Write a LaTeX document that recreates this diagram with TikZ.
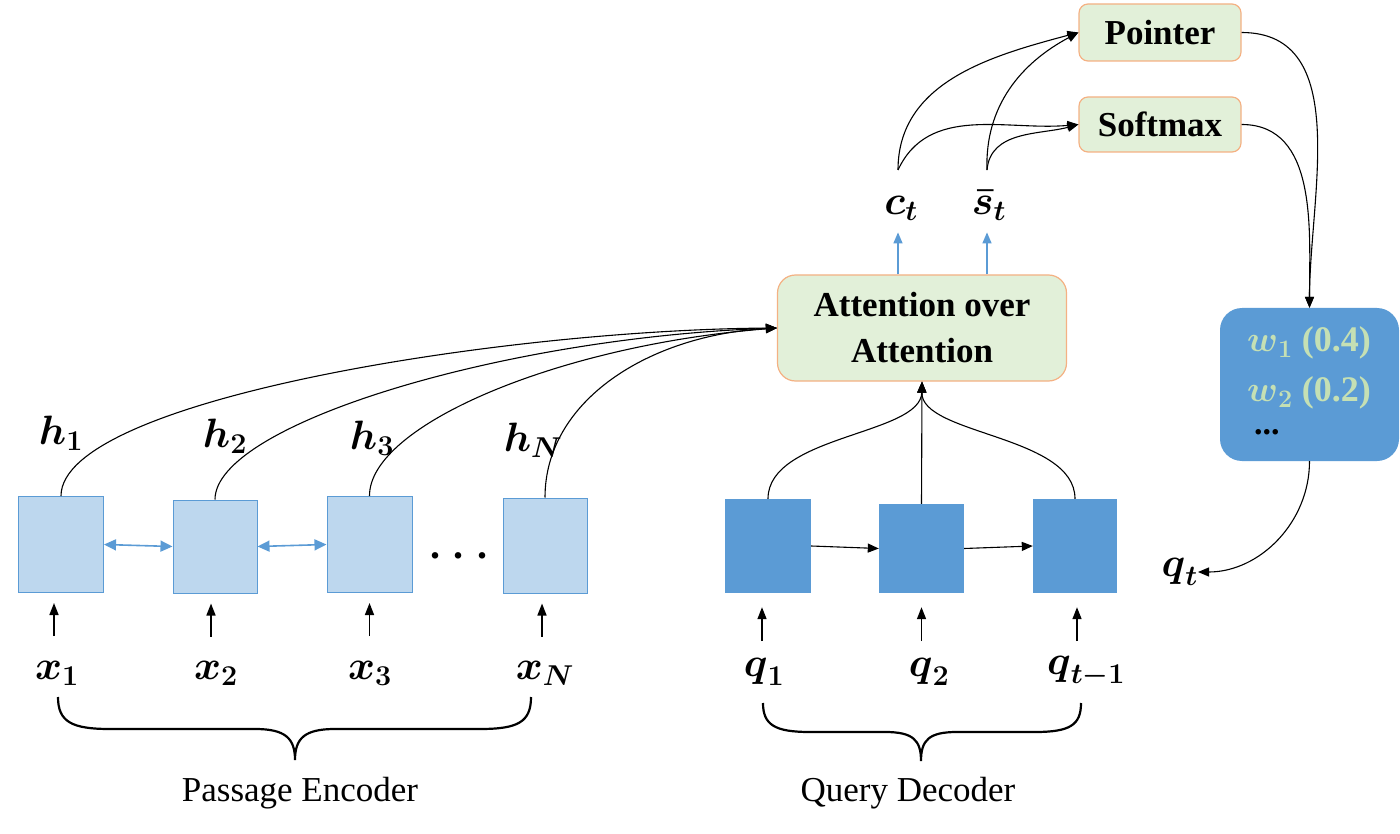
\RequirePackage{fix-cm}
\documentclass[tikz,border=0pt]{standalone}
\usepackage{amsmath}
\usepackage{fontspec}
\setmainfont{Liberation Serif}
\usetikzlibrary{arrows.meta}
\definecolor{lblue}{HTML}{BDD7EE}
\definecolor{mblue}{HTML}{5B9BD5}
\definecolor{lgreen}{HTML}{E2F0D9}
\definecolor{orng}{HTML}{F4B183}
\definecolor{wgreen}{HTML}{C5E0B4}
\newcommand{\bv}[2]{$\boldsymbol{#1}_{\boldsymbol{#2}}$}
\begin{document}
\begin{tikzpicture}[x=1pt,y=1pt,
  encbox/.style={draw=mblue, fill=lblue, line width=1.0pt, minimum width=85pt, minimum height=96pt, inner sep=0pt},
  decbox/.style={fill=mblue, minimum width=86pt, minimum height=94pt, inner sep=0pt},
  gbox/.style={draw=orng, fill=lgreen, rounded corners=9pt, line width=1.2pt, font=\fontsize{35}{46}\selectfont\bfseries, inner sep=0pt, align=center},
  lab/.style={font=\fontsize{41}{44}\selectfont, inner sep=0pt},
  wtxt/.style={font=\fontsize{36}{40}\selectfont\bfseries, text=wgreen, inner sep=0pt, anchor=west},
  conn/.style={line width=1.1pt, -{Triangle[length=11pt,width=9pt]}},
  uparr/.style={line width=1.6pt, -{Triangle[length=12pt,width=9pt]}},
  barr/.style={draw=mblue, line width=1.4pt, -{Triangle[length=11pt,width=9pt]}},
  biarr/.style={draw=mblue, line width=1.6pt, {Triangle[length=12pt,width=11pt]}-{Triangle[length=12pt,width=11pt]}},
  brace/.style={line width=2.2pt},
  capt/.style={font=\fontsize{35}{40}\selectfont, inner sep=0pt}
]
\useasboundingbox (0,0) rectangle (1400,-834);

% encoder boxes
\node[encbox] (e1) at (61,-544.5) {};
\node[encbox, minimum height=93pt, minimum width=84pt] (e2) at (215,-546.5) {};
\node[encbox] (e3) at (369.5,-544.5) {};
\node[encbox, minimum height=95pt, minimum width=84pt] (e4) at (545,-545.5) {};
\node[font=\fontsize{40}{44}\selectfont\bfseries, inner sep=0pt] (edots) at (459,-556) {. . .};

% decoder boxes
\node[decbox] (d1) at (768,-546) {};
\node[decbox, minimum height=89pt, minimum width=85pt] (d2) at (921.5,-548.5) {};
\node[decbox, minimum width=84pt] (d3) at (1075,-546) {};

% h labels
\node[lab] (h1) at (61,-433) {\bv{h}{1}};
\node[lab] (h2) at (225,-436) {\bv{h}{2}};
\node[lab] (h3) at (372,-438) {\bv{h}{3}};
\node[lab] (hN) at (533,-440) {\bv{h}{N}};

% x labels
\node[lab] (x1) at (57,-673) {\bv{x}{1}};
\node[lab] (x2) at (216,-673) {\bv{x}{2}};
\node[lab] (x3) at (370,-673) {\bv{x}{3}};
\node[lab] (xN) at (545,-673) {\bv{x}{N}};

% q labels
\node[lab] (q1) at (764,-672) {\bv{q}{1}};
\node[lab] (q2) at (929,-672) {\bv{q}{2}};
\node[lab] (q3) at (1086,-672) {\bv{q}{t-1}};

% input arrows
\draw[uparr] ([xshift=-7pt,yshift=-43pt]e1.south) -- ([xshift=-7pt,yshift=-10pt]e1.south);
\draw[uparr] ([xshift=-4pt,yshift=-43pt]e2.south) -- ([xshift=-4pt,yshift=-10pt]e2.south);
\draw[uparr] ([xshift=0pt,yshift=-43pt]e3.south) -- ([xshift=0pt,yshift=-10pt]e3.south);
\draw[uparr] ([xshift=-3pt,yshift=-43pt]e4.south) -- ([xshift=-3pt,yshift=-10pt]e4.south);
\draw[uparr] ([xshift=-6pt,yshift=-48pt]d1.south) -- ([xshift=-6pt,yshift=-14pt]d1.south);
\draw[uparr] ([xshift=0pt,yshift=-48pt]d2.south) -- ([xshift=0pt,yshift=-14pt]d2.south);
\draw[uparr] ([xshift=2pt,yshift=-48pt]d3.south) -- ([xshift=2pt,yshift=-14pt]d3.south);

% encoder bidirectional
\draw[biarr] (e1.east) -- (e2.west);
\draw[biarr] (e2.east) -- (e3.west);
% decoder arrows
\draw[conn] (d1.east) -- (d2.west);
\draw[conn] (d2.east) -- (d3.west);

% attention
\node[gbox, rounded corners=18pt, minimum width=289pt, minimum height=106pt] (att) at (922,-328) {Attention over\\Attention};

\draw[conn] (e1.north) .. controls (61,-400) and (500,-330) .. (att.west);
\draw[conn] (e2.north) .. controls (215,-425) and (500,-338) .. (att.west);
\draw[conn] (e3.north) .. controls (369,-425) and (560,-345) .. (att.west);
\draw[conn] (e4.north) .. controls (545,-400) and (650,-335) .. (att.west);

\draw[conn] (d1.north) .. controls (768,-435) and (921,-435) .. (att.south);
\draw[conn] (d2.north) -- (att.south);
\draw[conn] (d3.north) .. controls (1075,-435) and (921,-435) .. (att.south);

% c_t and s_t
\node[lab] (ct) at (901,-208) {\bv{c}{t}};
\node[lab] (st) at (989,-205) {$\boldsymbol{\bar{s}}_{\boldsymbol{t}}$};
\coordinate (cto) at (898,-170);
\coordinate (sto) at (987,-170);
\draw[barr] (att.north -| cto) -- ++(0,42);
\draw[barr] (att.north -| sto) -- ++(0,42);

% pointer and softmax
\node[gbox, minimum width=162pt, minimum height=57pt] (ptr) at (1160,-32.5) {Pointer};
\node[gbox, minimum width=162pt, minimum height=55pt] (sfm) at (1160,-124.5) {Softmax};

\draw[conn] (cto) to[out=90,in=195] (ptr.west);
\draw[conn] (sto) to[out=92,in=208] (ptr.west);
\draw[conn] (cto) to[out=65,in=185] (sfm.west);
\draw[conn] (sto) to[out=85,in=195] (sfm.west);

% word box
\node[fill=mblue, rounded corners=22pt, minimum width=179pt, minimum height=153pt, inner sep=0pt] (wb) at (1309.5,-384.5) {};
\node[wtxt] (w1) at (1247,-343) {\bv{w}{1} (0.4)};
\node[wtxt] (w2) at (1247,-393) {\bv{w}{2} (0.2)};
\node[font=\fontsize{34}{38}\selectfont\bfseries, inner sep=0pt, anchor=west] (wd) at (1254,-432) {...};

\draw[conn] (ptr.east) to[out=0,in=90] (wb.north);
\draw[conn] (sfm.east) to[out=0,in=90] (wb.north);

\node[lab, anchor=east] (qt) at (1198,-572) {\bv{q}{t}};
\draw[conn] (wb.south) to[out=-90,in=0] (qt.east);

% braces
\draw[brace] (58,-697) .. controls (58,-722) and (72,-729) .. (110,-729) -- (255,-729) .. controls (285,-729) and (295,-738) .. (295,-760) .. controls (295,-738) and (305,-729) .. (335,-729) -- (480,-729) .. controls (518,-729) and (531,-722) .. (531,-697);
\draw[brace] (763,-703) .. controls (763,-725) and (775,-732) .. (810,-732) -- (885,-732) .. controls (913,-732) and (921,-740) .. (921,-761) .. controls (921,-740) and (929,-732) .. (957,-732) -- (1035,-732) .. controls (1070,-732) and (1081,-725) .. (1081,-703);

\node[capt] (pe) at (300,-793) {Passage Encoder};
\node[capt] (qd) at (908,-793) {Query Decoder};
\end{tikzpicture}
\end{document}
